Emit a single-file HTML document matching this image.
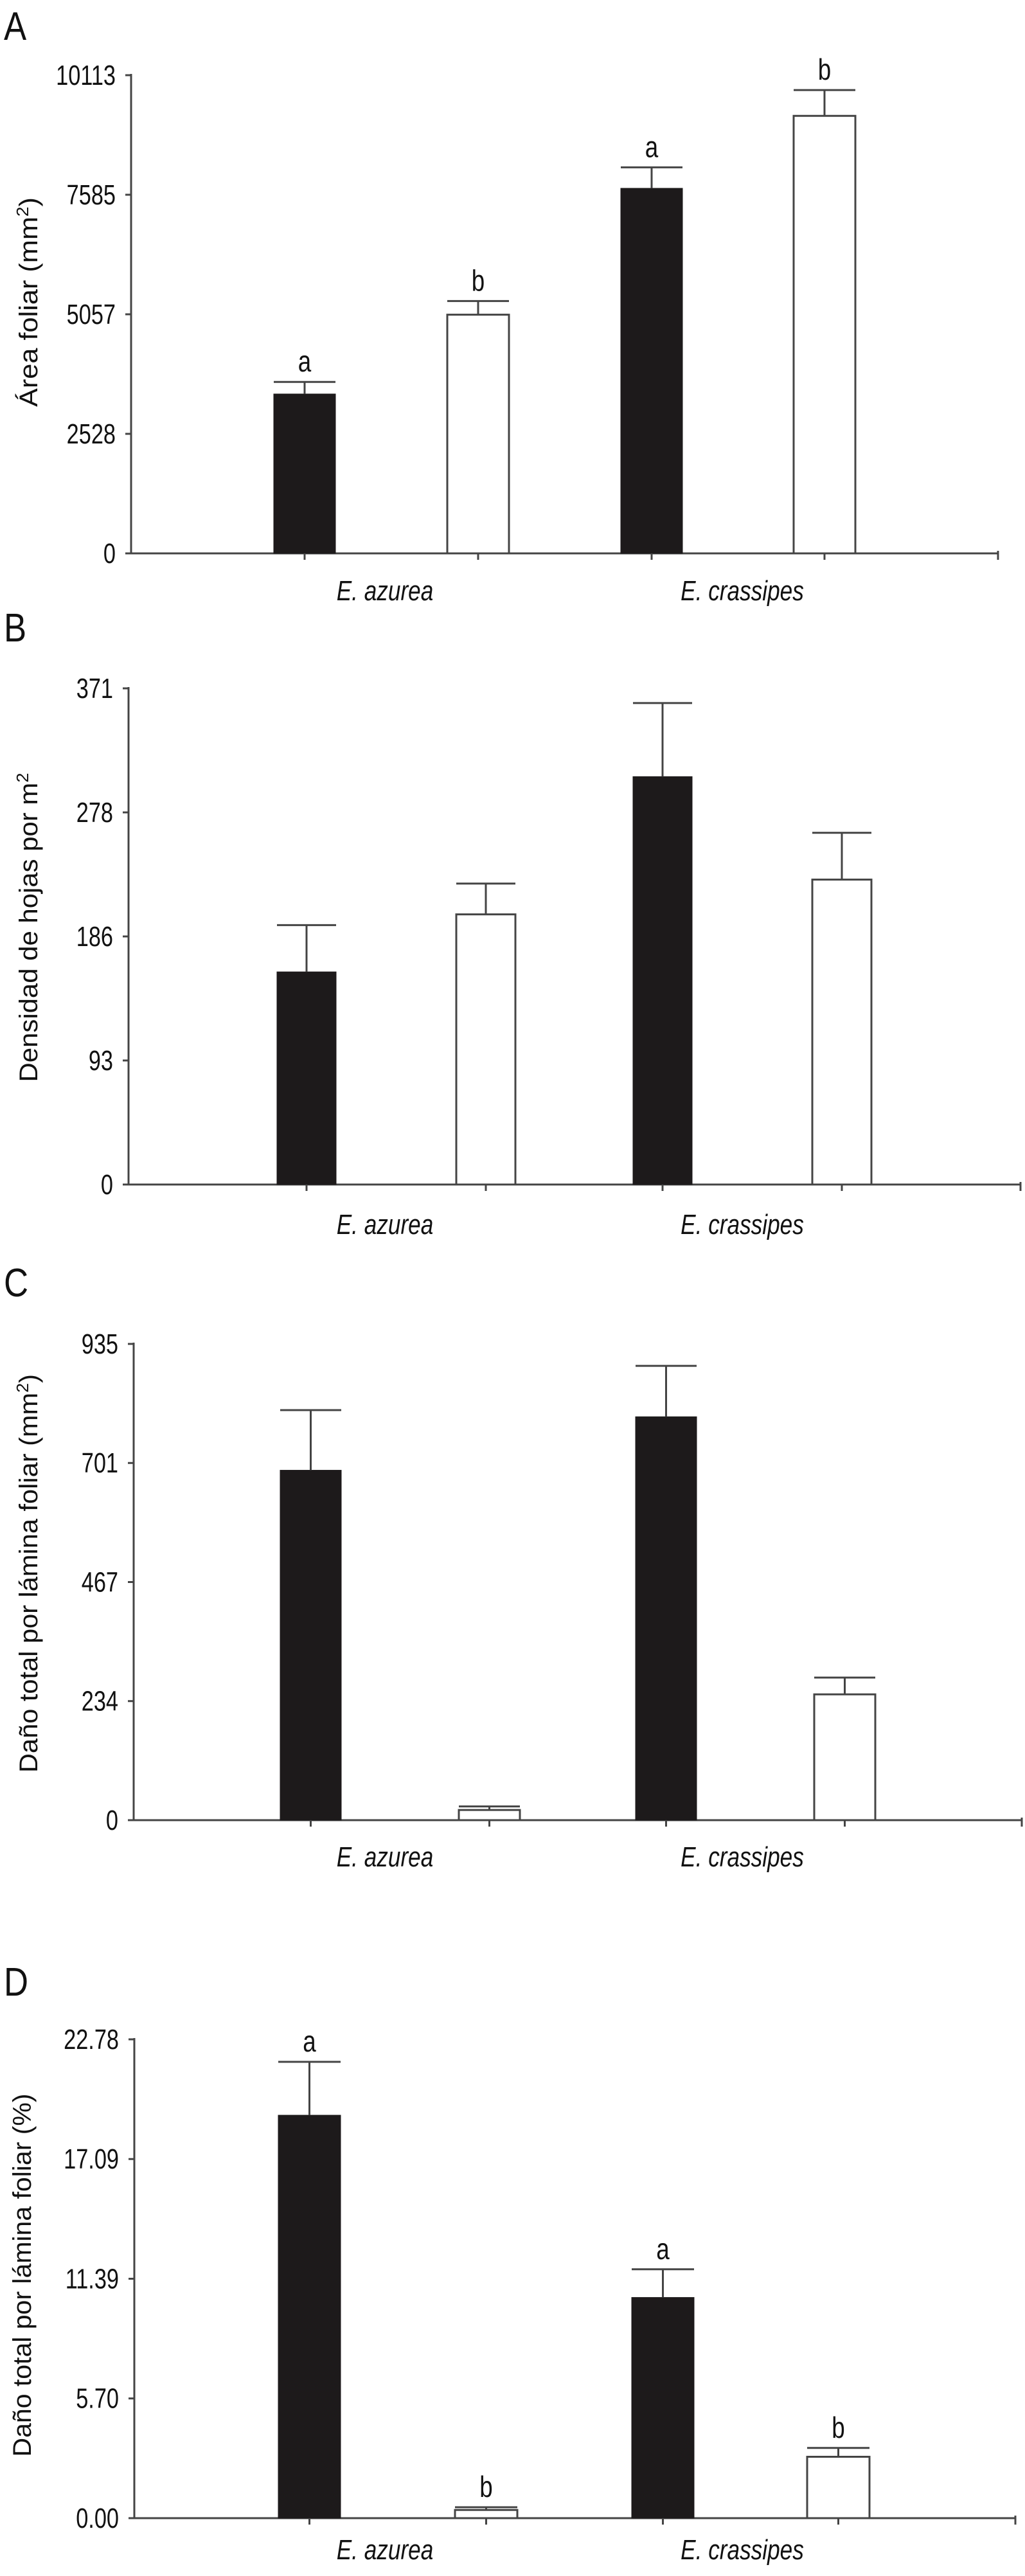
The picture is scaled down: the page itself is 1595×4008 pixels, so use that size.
<!DOCTYPE html>
<html><head><meta charset="utf-8">
<style>
html,body{margin:0;padding:0;background:#fff;}
svg{display:block;}
text{font-family:"Liberation Sans",Arial,sans-serif;fill:#111;}
</style></head>
<body>
<svg id="fig" width="1595" height="4008" viewBox="0 0 1595 4008" xmlns="http://www.w3.org/2000/svg"></svg>
<script>
// Shared categories
const categories = ["E. azurea", "E. crassipes"];

// Panel A: leaf area (mm2)
const aTicks = ["0", "2528", "5057", "7585", "10113"];
const aMax = 10113;
const aValues = [3371, 5048, 7721, 9253];
const aErrors = [3626, 5337, 8164, 9798];
const aLetters = ["a", "b", "a", "b"];

// Panel B: leaf density per m2
const bTicks = ["0", "93", "186", "278", "371"];
const bMax = 371;
const bValues = [159, 202, 305, 228];
const bErrors = [194, 225, 360, 263];
const bLetters = ["", "", "", ""];

// Panel C: total damage per leaf blade (mm2)
const cTicks = ["0", "234", "467", "701", "935"];
const cMax = 935;
const cValues = [687, 20, 792, 247];
const cErrors = [805, 27, 892, 280];
const cLetters = ["", "", "", ""];

// Panel D: total damage per leaf blade (%)
const dTicks = ["0.00", "5.70", "11.39", "17.09", "22.78"];
const dMax = 22.78;
const dValues = [19.17, 0.39, 10.50, 2.92];
const dErrors = [21.71, 0.52, 11.84, 3.34];
const dLetters = ["a", "b", "a", "b"];

const NS = "http://www.w3.org/2000/svg";
const svg = document.getElementById("fig");
function mk(tag, attrs, parent){
  const e = document.createElementNS(NS, tag);
  for (const k in attrs) e.setAttribute(k, attrs[k]);
  (parent || svg).appendChild(e);
  return e;
}

function panel(cfg){
  const g = mk("g", {});
  
  
  const {ax, top, zero, xEnd, barX, bw} = cfg;
  const y = v => zero - (v / cfg.max) * (zero - top);

  const lab = mk("text", {x: 6, y: cfg.labelY, "font-size": 62, transform: `translate(6,0) scale(0.85,1) translate(-6,0)`}, g);
  lab.textContent = cfg.id.toUpperCase();
  
  

  const yl = mk("line", {x1: ax, y1: top - 2, x2: ax, y2: zero, stroke: "#444", "stroke-width": 3}, g);
  
  
  cfg.ticks.forEach((t, i) => {
    const ty = zero - i / (cfg.ticks.length - 1) * (zero - top);
    const tk = mk("line", {x1: ax - 9, y1: ty, x2: ax, y2: ty, stroke: "#444", "stroke-width": 3}, g);
    
    
    const tx = ax - 24;
    const tl = mk("text", {x: tx, y: ty + 15, "font-size": 44, "text-anchor": "end", transform: `translate(${tx},0) scale(0.78,1) translate(${-tx},0)`}, g);
    tl.textContent = t;
    
    
  });

  const xl = mk("line", {x1: ax, y1: zero, x2: xEnd, y2: zero, stroke: "#444", "stroke-width": 3}, g);
  
  
  const endTick = mk("line", {x1: xEnd, y1: zero - 4, x2: xEnd, y2: zero + 10, stroke: "#444", "stroke-width": 3}, g);
  
  

  const tt = mk("text", {x: 0, y: 0, "font-size": 40, "text-anchor": "middle", textLength: cfg.titleLen, lengthAdjust: "spacingAndGlyphs", transform: `translate(${cfg.titleX},${cfg.titleY}) rotate(-90)`}, g);
  tt.innerHTML = cfg.title;
  
  

  cfg.values.forEach((v, i) => {
    const x0 = barX[i];
    const cx = x0 + bw / 2;
    const black = i % 2 === 0;
    const r = mk("rect", {x: x0, y: y(v), width: bw, height: zero - y(v), fill: black ? "#1d1a1b" : "#fff", stroke: black ? "#1d1a1b" : "#444", "stroke-width": black ? 1 : 3}, g);
    
    
    const ey = y(cfg.errors[i]);
    const ev = mk("line", {x1: cx, y1: y(v), x2: cx, y2: ey, stroke: "#444", "stroke-width": 3}, g);
    
    
    const ec = mk("line", {x1: x0, y1: ey, x2: x0 + bw, y2: ey, stroke: "#444", "stroke-width": 3}, g);
    
    
    const xt = mk("line", {x1: cx, y1: zero, x2: cx, y2: zero + 10, stroke: "#444", "stroke-width": 3}, g);
    
    
    if (cfg.letters[i]) {
      const lt = mk("text", {x: cx, y: ey - 16, "font-size": 46, "text-anchor": "middle", transform: `translate(${cx},0) scale(0.8,1) translate(${-cx},0)`}, g);
      lt.textContent = cfg.letters[i];
      
      
    }
  });

  categories.forEach((c, k) => {
    const cx = cfg.catX[k];
    const ct = mk("text", {x: cx, y: cfg.catY, "font-size": 44, "font-style": "italic", "text-anchor": "middle", transform: `translate(${cx},0) scale(0.8,1) translate(${-cx},0)`}, g);
    ct.textContent = c;
    
    
  });
}

panel({id: "a", ax: 204, top: 117, zero: 861, xEnd: 1553, max: aMax, ticks: aTicks,
  values: aValues, errors: aErrors, letters: aLetters, barX: [426, 696, 966, 1235], bw: 96,
  labelY: 62, title: 'Área foliar (mm<tspan font-size="26" dy="-14">2</tspan><tspan dy="14">)</tspan>', titleX: 58, titleY: 470, titleLen: 326,
  catX: [599, 1155], catY: 934});

panel({id: "b", ax: 200, top: 1071, zero: 1843, xEnd: 1588, max: bMax, ticks: bTicks,
  values: bValues, errors: bErrors, letters: bLetters, barX: [431, 710, 985, 1264], bw: 92,
  labelY: 998, title: 'Densidad de hojas por m<tspan font-size="26" dy="-14">2</tspan>', titleX: 58, titleY: 1443, titleLen: 481,
  catX: [599, 1155], catY: 1920});

panel({id: "c", ax: 208, top: 2091, zero: 2832, xEnd: 1590, max: cMax, ticks: cTicks,
  values: cValues, errors: cErrors, letters: cLetters, barX: [436, 714, 989, 1267], bw: 95,
  labelY: 2017, title: 'Daño total por lámina foliar (mm<tspan font-size="26" dy="-14">2</tspan><tspan dy="14">)</tspan>', titleX: 58, titleY: 2448, titleLen: 620,
  catX: [599, 1155], catY: 2904});

panel({id: "d", ax: 209, top: 3173, zero: 3918, xEnd: 1580, max: dMax, ticks: dTicks,
  values: dValues, errors: dErrors, letters: dLetters, barX: [433, 708, 983, 1256], bw: 97,
  labelY: 3105, title: 'Daño total por lámina foliar (%)', titleX: 48, titleY: 3540, titleLen: 565,
  catX: [599, 1155], catY: 3982});
</script>
</body></html>
